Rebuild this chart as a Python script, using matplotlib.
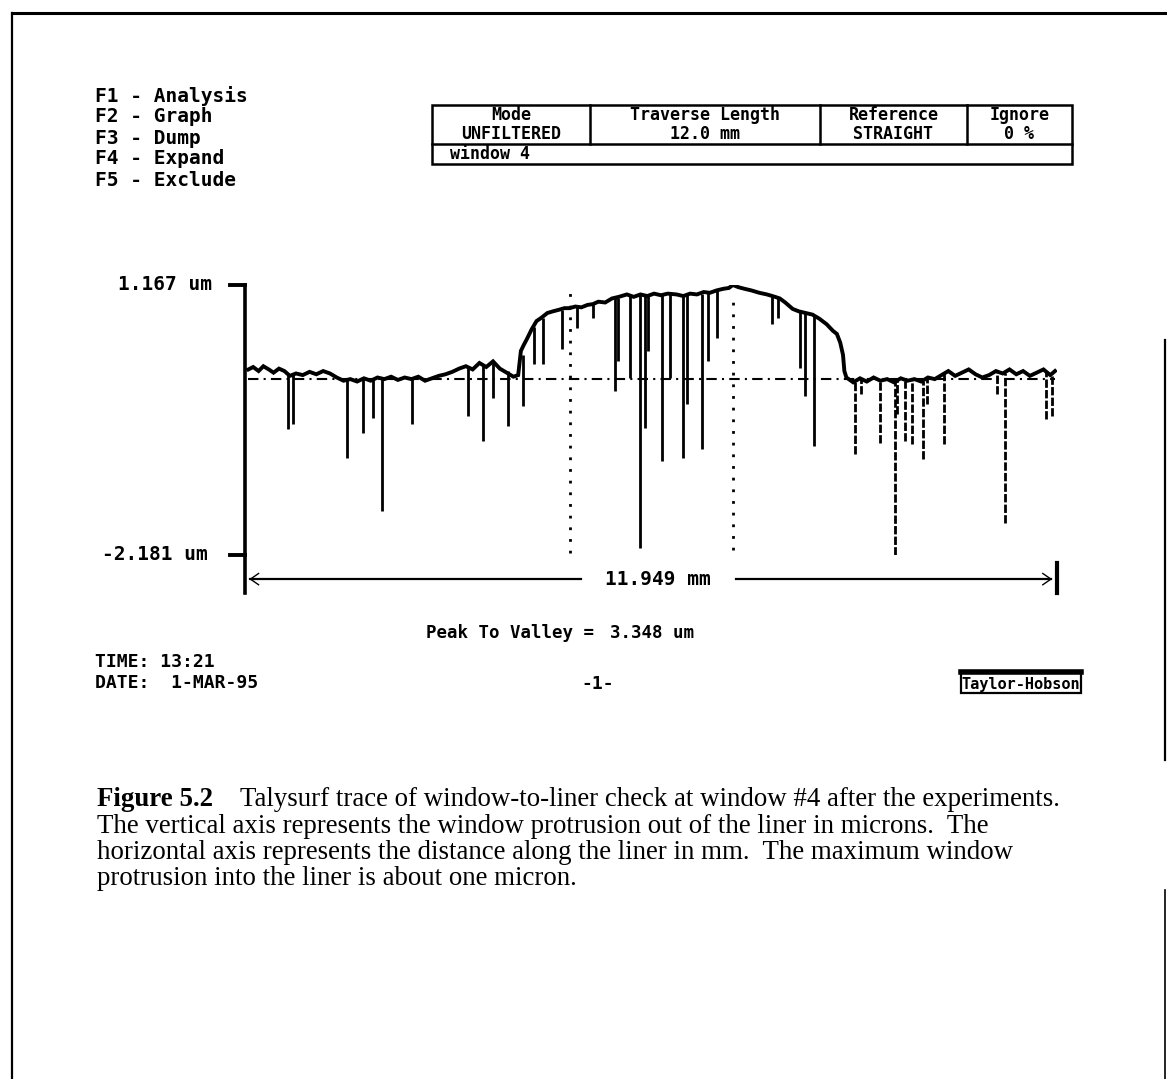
import matplotlib
matplotlib.use("Agg")
import matplotlib.pyplot as plt
from matplotlib.patches import Rectangle

# ---------------- data ----------------
profile_x = [0.05, 0.12, 0.20, 0.27, 0.35, 0.42, 0.50, 0.58, 0.66, 0.75, 0.85, 0.95,
             1.05, 1.15, 1.25, 1.35, 1.45, 1.55, 1.65, 1.75, 1.85, 1.95, 2.05, 2.15,
             2.25, 2.35, 2.45, 2.55, 2.65, 2.75, 2.85, 2.95, 3.05, 3.15, 3.25, 3.35,
             3.45, 3.55, 3.65, 3.75, 3.85, 3.95, 4.02, 4.06, 4.10, 4.15, 4.22, 4.29,
             4.36, 4.45, 4.53, 4.62, 4.70, 4.78, 4.86, 4.95, 5.04, 5.12, 5.20, 5.30,
             5.40, 5.50, 5.62, 5.72, 5.82, 5.92, 6.02, 6.12, 6.22, 6.35, 6.45, 6.55,
             6.65, 6.75, 6.84, 6.94, 7.04, 7.12, 7.18, 7.26, 7.35, 7.45, 7.57, 7.68,
             7.80, 7.87, 7.95, 8.06, 8.15, 8.25, 8.35, 8.45, 8.56, 8.65, 8.71, 8.76,
             8.80, 8.82, 8.85, 8.95, 9.05, 9.15, 9.25, 9.35, 9.45, 9.55, 9.65, 9.75,
             9.85, 9.95, 10.05, 10.15, 10.25, 10.35, 10.45, 10.55, 10.65, 10.75, 10.85,
             10.95, 11.05, 11.15, 11.25, 11.35, 11.45, 11.55, 11.65, 11.75, 11.85, 11.92]
profile_y = [0.12, 0.15, 0.10, 0.16, 0.12, 0.08, 0.13, 0.10, 0.04, 0.07, 0.05, 0.09,
             0.06, 0.10, 0.07, 0.02, -0.02, 0.00, -0.03, 0.01, -0.02, 0.02, 0.00, 0.03,
             -0.01, 0.02, 0.00, 0.03, -0.02, 0.01, 0.04, 0.06, 0.09, 0.13, 0.16, 0.12,
             0.20, 0.15, 0.22, 0.13, 0.08, 0.03, 0.05, 0.35, 0.42, 0.50, 0.62, 0.72,
             0.76, 0.82, 0.84, 0.86, 0.88, 0.88, 0.90, 0.89, 0.92, 0.93, 0.96, 0.95,
             1.00, 1.02, 1.05, 1.02, 1.05, 1.03, 1.06, 1.04, 1.06, 1.05, 1.03, 1.06,
             1.05, 1.08, 1.07, 1.10, 1.12, 1.13, 1.167, 1.14, 1.12, 1.10, 1.07, 1.05,
             1.02, 1.00, 0.95, 0.87, 0.84, 0.82, 0.80, 0.75, 0.68, 0.60, 0.56, 0.45,
             0.30, 0.10, 0.02, -0.04, 0.01, -0.03, 0.02, -0.02, 0.00, -0.04, 0.01, -0.02,
             0.00, -0.03, 0.02, 0.00, 0.05, 0.10, 0.04, 0.08, 0.12, 0.06, 0.02,
             0.05, 0.10, 0.07, 0.12, 0.06, 0.10, 0.04, 0.08, 0.12, 0.05, 0.10]

spike_x = [0.63, 0.71, 1.50, 1.74, 1.88, 2.01, 2.46, 3.28, 3.50, 3.65, 3.87, 4.09,
           4.26, 4.38, 4.66, 4.88, 5.12, 5.44, 5.49, 5.66, 5.81, 5.88, 5.93, 6.13,
           6.25, 6.44, 6.50, 6.72, 6.81, 6.94, 7.76, 7.84, 8.16, 8.24, 8.38,
           8.97, 9.07, 9.34, 9.56, 9.60, 9.71, 9.82, 9.97, 10.04, 10.29, 11.06,
           11.18, 11.79, 11.88]
spike_top = [0.08, 0.06, 0.00, 0.00, 0.00, 0.00, 0.00, 0.15, 0.18, 0.20, 0.10, 0.30,
             0.65, 0.76, 0.86, 0.90, 0.93, 1.00, 1.00, 1.04, 1.05, 1.04, 1.03, 1.04,
             1.06, 1.03, 1.04, 1.06, 1.07, 1.10, 1.03, 1.01, 0.84, 0.82, 0.80,
             -0.02, 0.00, -0.02, -0.03, 0.00, -0.02, 0.00, -0.02, 0.00, 0.06, 0.10,
             0.08, 0.10, 0.08]
spike_bottom = [-0.62, -0.56, -0.98, -0.67, -0.48, -1.64, -0.56, -0.46, -0.77, -0.24, -0.58, -0.33,
                0.19, 0.19, 0.37, 0.63, 0.76, -0.15, 0.22, 0.01, -2.10, -0.61, 0.35, -1.02,
                0.01, -0.98, -0.31, -0.87, 0.22, 0.51, 0.68, 0.76, 0.14, -0.21, -0.83,
                -0.93, -0.19, -0.79, -2.181, -0.43, -0.77, -0.81, -0.99, -0.31, -0.81, -0.19,
                -1.79, -0.50, -0.46]

marker_x = [4.78, 7.18]
marker_top = [1.167, 1.05]
marker_bottom = [-2.15, -2.12]

y_max = 1.167
y_min = -2.181
trace_len = 11.949
peak_to_valley = 3.348

menu_items = ["F1 - Analysis", "F2 - Graph", "F3 - Dump", "F4 - Expand", "F5 - Exclude"]
table_headers = ["Mode", "Traverse Length", "Reference", "Ignore"]
table_values = ["UNFILTERED", "12.0 mm", "STRAIGHT", "0 %"]
table_note = "window 4"

caption_lead = "Figure 5.2"
caption_lines = [
    "Talysurf trace of window-to-liner check at window #4 after the experiments.",
    "The vertical axis represents the window protrusion out of the liner in microns.  The",
    "horizontal axis represents the distance along the liner in mm.  The maximum window",
    "protrusion into the liner is about one micron.",
]

# ---------------- figure ----------------
W, H = 1167, 1079
fig = plt.figure(figsize=(W / 100, H / 100), dpi=100)
fig.patch.set_facecolor("white")

bg = fig.add_axes([0, 0, 1, 1])
bg.set_xlim(0, W)
bg.set_ylim(H, 0)
bg.axis("off")

mono = dict(family="DejaVu Sans Mono", fontweight="bold", color="black")
FS = 14
TFS = 12

# outer frame
bg.plot([12, 12], [13, H], color="black", lw=1.6)
bg.plot([12, W], [13, 13], color="black", lw=2.2)
bg.plot([1165, 1165], [340, 760], color="black", lw=1.6)
bg.plot([1165, 1165], [890, H], color="black", lw=1.2)

# menu
for i, item in enumerate(menu_items):
    bg.text(95, 96 + i * 21, item, fontsize=FS, va="center", ha="left", **mono)

# table
tl, tr, tt, tm, tb = 432, 1072, 105, 144, 164
bg.add_patch(Rectangle((tl, tt), tr - tl, tb - tt, fill=False, ec="black", lw=1.8))
bg.plot([tl, tr], [tm, tm], color="black", lw=1.8)
col_edges = [tl, 590, 820, 967, tr]
for xe in col_edges[1:-1]:
    bg.plot([xe, xe], [tt, tm], color="black", lw=1.8)
for j in range(4):
    cx = (col_edges[j] + col_edges[j + 1]) / 2
    bg.text(cx, 115.5, table_headers[j], fontsize=TFS, ha="center", va="center", **mono)
    bg.text(cx, 134, table_values[j], fontsize=TFS, ha="center", va="center", **mono)
bg.text(tl + 18, 154, table_note, fontsize=TFS, ha="left", va="center", **mono)

# ---------------- trace axes ----------------
x0px, x1px = 245, 1057
ytop_px, ybot_px = 285, 555
ax = fig.add_axes([x0px / W, 1 - ybot_px / H, (x1px - x0px) / W, (ybot_px - ytop_px) / H])
ax.set_xlim(0, trace_len)
ax.set_ylim(y_min, y_max)
ax.axis("off")

# reference (dash-dot) line
ax.plot([0.05, 11.92], [0, 0], color="black", lw=1.5, ls=(0, (5, 2.5, 1, 2.5)))

# marker dotted lines
for mx, mt, mb in zip(marker_x, marker_top, marker_bottom):
    ax.plot([mx, mx], [mb, mt], color="black", lw=2.0, ls=(0, (1, 3.2)))

# spikes
for sx, st, sb in zip(spike_x, spike_top, spike_bottom):
    style = (0, (3, 0.8)) if sx > 8.9 else "-"
    ax.plot([sx, sx], [sb, st], color="black", lw=2.0, ls=style, solid_capstyle="butt")

# profile
ax.plot(profile_x, profile_y, color="black", lw=2.8, solid_joinstyle="miter")

# y axis line and ticks
y_axis_bottom = -2.655
ax.plot([0, 0], [y_axis_bottom, y_max], color="black", lw=2.6, clip_on=False)
tick_len = 15 / 68
for yv in (y_max, y_min):
    ax.plot([-tick_len, 0], [yv, yv], color="black", lw=2.8, clip_on=False)

# dimension arrow
arrow_y = -2.48
ax.plot([0.08, 4.95], [arrow_y, arrow_y], color="black", lw=1.6, clip_on=False)
ax.plot([7.22, 11.86], [arrow_y, arrow_y], color="black", lw=1.6, clip_on=False)
for xa, dx in ((0.08, 0.12), (11.86, -0.12)):
    ax.plot([xa, xa + dx], [arrow_y, arrow_y + 0.07], color="black", lw=1.0, clip_on=False)
    ax.plot([xa, xa + dx], [arrow_y, arrow_y - 0.07], color="black", lw=1.0, clip_on=False)
ax.plot([trace_len, trace_len], [-2.28, y_axis_bottom], color="black", lw=3.0, clip_on=False)
ax.text(6.08, arrow_y, f"{trace_len:.3f} mm", fontsize=FS, ha="center", va="center", **mono)

# y labels
bg.text(212, ytop_px, f"{y_max:.3f} um", fontsize=FS, ha="right", va="center", **mono)
bg.text(208, ybot_px, f"{y_min:.3f} um", fontsize=FS, ha="right", va="center", **mono)

# peak to valley
bg.text(426, 633, "Peak To Valley =", fontsize=12.5, ha="left", va="center", **mono)
bg.text(610, 633, f"{peak_to_valley:.3f} um", fontsize=12.5, ha="left", va="center", **mono)

# footer
bg.text(95, 662, "TIME: 13:21", fontsize=13, ha="left", va="center", **mono)
bg.text(95, 683, "DATE:  1-MAR-95", fontsize=13, ha="left", va="center", **mono)
bg.text(598, 684, "-1-", fontsize=13, ha="center", va="center", **mono)
bg.add_patch(Rectangle((961, 672), 120, 21, fill=False, ec="black", lw=1.6))
bg.plot([961, 1081], [672, 672], color="black", lw=4.0)
bg.text(1021, 684, "Taylor-Hobson", fontsize=11, ha="center", va="center", **mono)

# caption
serif = dict(family="Liberation Serif", color="black")
CFS = 19.4
bg.text(97, 800, caption_lead, fontsize=CFS, fontweight="bold", ha="left", va="center", **serif)
bg.text(240, 800, caption_lines[0], fontsize=CFS, ha="left", va="center", **serif)
for k, line in enumerate(caption_lines[1:], start=1):
    bg.text(97, 800 + k * 26.3, line, fontsize=CFS, ha="left", va="center", **serif)

fig.savefig("out.png", dpi=100, facecolor="white")
